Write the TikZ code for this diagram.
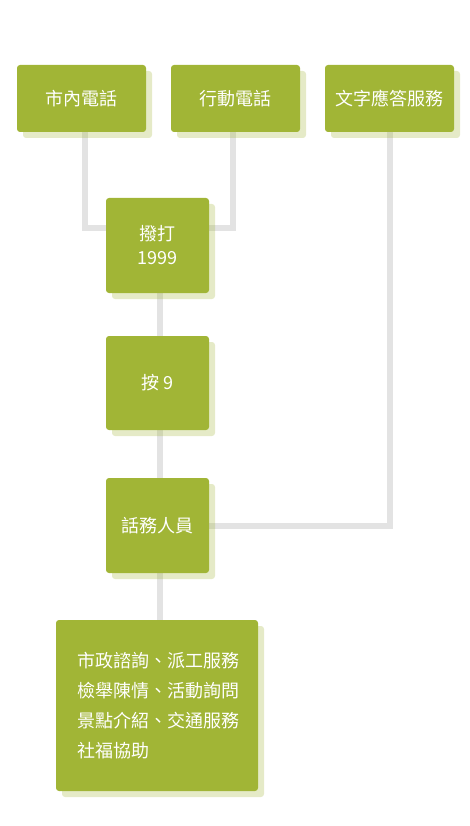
\documentclass[tikz,border=0pt]{standalone}
\usepackage{fontspec}
\setmainfont{Noto Sans CJK TC}
\usetikzlibrary{shadows,backgrounds}
\definecolor{boxgreen}{HTML}{A1B536}
\definecolor{linegrey}{HTML}{E3E3E3}
\begin{document}
\begin{tikzpicture}[x=1pt,y=-1pt,
  box/.style={fill=boxgreen, rounded corners=3pt, text=white, inner sep=0pt,
    font=\fontsize{18}{24}\selectfont, align=center,
    drop shadow={shadow xshift=6pt, shadow yshift=-6pt, fill=boxgreen, opacity=0.28}},
  conn/.style={draw=linegrey, line width=6pt}]
\useasboundingbox (0,0) rectangle (470,826);
\node[box, minimum width=129pt, minimum height=67pt] (a) at (81.5,98.5) {市內電話};
\node[box, minimum width=129pt, minimum height=67pt] (b) at (235.5,98.5) {行動電話};
\node[box, minimum width=129pt, minimum height=67pt] (c) at (389.5,98.5) {文字應答服務};
\node[box, minimum width=103pt, minimum height=95pt] (d) at (157.5,245.5) {撥打\\1999};
\node[box, minimum width=103pt, minimum height=94pt] (e) at (157.5,383) {按 9};
\node[box, minimum width=103pt, minimum height=95pt] (g) at (157.5,525.5) {話務人員};
\node[box, minimum width=202pt, minimum height=171pt, align=left,
  font=\fontsize{18}{30}\selectfont] (h) at (157,705.5) {\hspace*{3pt}市政諮詢、派工服務\\\hspace*{3pt}檢舉陳情、活動詢問\\\hspace*{3pt}景點介紹、交通服務\\\hspace*{3pt}社福協助\hphantom{、交通服務}};
\begin{scope}[on background layer]
\draw[conn] ([xshift=3.5pt]a.south) |- ([yshift=17.5pt]d.west);
\draw[conn] ([xshift=-2.5pt]b.south) |- ([yshift=17.5pt]d.east);
\draw[conn] (c.south) |- (g.east);
\draw[conn] ([xshift=2.5pt]d.south) -- ([xshift=2.5pt]e.north);
\draw[conn] ([xshift=2.5pt]e.south) -- ([xshift=2.5pt]g.north);
\draw[conn] ([xshift=2.5pt]g.south) -- ([xshift=3pt]h.north);
\end{scope}
\end{tikzpicture}
\end{document}
